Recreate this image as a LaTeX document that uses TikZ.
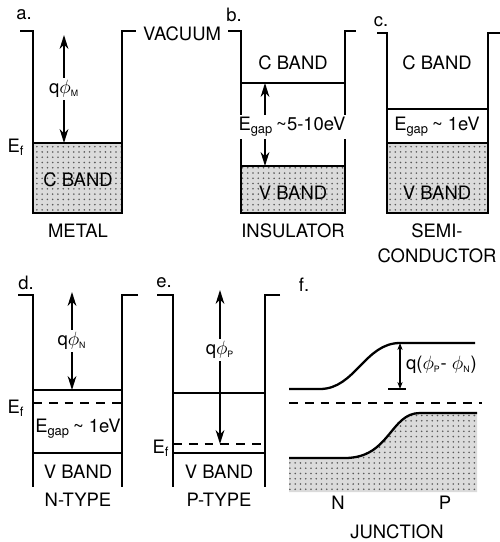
\documentclass[tikz,border=0pt]{standalone}
\usepackage{fontspec}
\setmainfont{TeX Gyre Heros}
\usetikzlibrary{patterns,arrows.meta}

\tikzset{
  wall/.style={line width=1.3pt},
  level/.style={line width=1.3pt},
  fermi/.style={line width=1.4pt, dash pattern=on 5pt off 4pt},
  stipple/.style={fill=black!14, postaction={pattern=dots, pattern color=black!65}},
  txt/.style={font=\fontsize{10.5}{12}\selectfont, inner sep=1pt},
  gap/.style={txt, fill=white, inner sep=1.5pt},
  bigarrow/.style={{Stealth[length=8pt,width=5pt]}-{Stealth[length=8pt,width=5pt]}, line width=1pt},
  smallarrow/.style={{Stealth[length=4pt,width=3pt]}-{Stealth[length=4pt,width=3pt]}, line width=0.7pt},
}

\begin{document}
\begin{tikzpicture}[x=0.02cm,y=-0.02cm]
    \useasboundingbox (0,0) rectangle (500,542);

    % a. metal
    \fill[stipple] (33,143) rectangle (122,213);
    \draw[wall] (20,31) -| (33,213) -- (122,213) |- (136,31);
    \draw[level] (33,143) -- (122,143);
    \coordinate (aTop) at (64,35);
    \coordinate (aEf) at (64,143);
    \draw[bigarrow] (aTop) -- node[gap] (phiM) {q$\phi$\textsubscript{\tiny M}} (aEf);
    \node[txt] (labA) at (24,15) {a.};
    \node[txt] (efA) at (16,147) {E\textsubscript{f}};
    \node[txt] (cbA) at (78,180) {C BAND};
    \node[txt] (metal) at (78,231) {METAL};
    \node[txt] (vacuum) at (182,34) {VACUUM};

    % b. insulator
    \fill[stipple] (241,166) rectangle (345,213);
    \draw[wall] (228,31) -| (241,213) -- (345,213) |- (356,31);
    \draw[level] (241,83) -- (345,83);
    \draw[level] (241,166) -- (345,166);
    \coordinate (bCB) at (265,83);
    \coordinate (bVB) at (265,166);
    \draw[bigarrow] (bCB) -- (bVB);
    \node[gap] (gapB) at (292,127) {E\textsubscript{gap}\,\textasciitilde 5-10eV};
    \node[txt] (labB) at (234,15) {b.};
    \node[txt] (cbB) at (293,63) {C BAND};
    \node[txt] (vbB) at (293,193) {V BAND};
    \node[txt] (insul) at (293,231) {INSULATOR};

    % c. semiconductor
    \fill[stipple] (387,143) rectangle (488,213);
    \draw[wall] (377,33) -| (387,213) -- (488,213) |- (500,33);
    \draw[level] (387,109) -- (488,109);
    \draw[level] (387,143) -- (488,143);
    \node[txt] (labC) at (381,22) {c.};
    \node[txt] (cbC) at (437,63) {C BAND};
    \node[txt] (gapC) at (437,127) {E\textsubscript{gap}\,\textasciitilde\ 1eV};
    \node[txt] (vbC) at (437,193) {V BAND};
    \node[txt] (semi) at (437,231) {SEMI-};
    \node[txt] (cond) at (437,256) {CONDUCTOR};

    % d. n-type
    \draw[wall] (18,295) -| (33,487);
    \draw[wall] (138,295) -| (122,487);
    \draw[level] (33,390) -- (122,390);
    \draw[fermi] (33,403) -- (122,403);
    \draw[level] (33,453) -- (122,453);
    \coordinate (dTop) at (72,292);
    \coordinate (dCB) at (72,390);
    \draw[bigarrow] (dTop) -- node[gap] (phiN) {q$\phi$\textsubscript{\tiny N}} (dCB);
    \node[txt] (labD) at (26,283) {d.};
    \node[txt] (efD) at (16,408) {E\textsubscript{f}};
    \node[txt] (gapD) at (78,429) {E\textsubscript{gap}\,\textasciitilde\ 1eV};
    \node[txt] (vbD) at (78,472) {V BAND};
    \node[txt] (ntype) at (78,500) {N-TYPE};

    % e. p-type
    \draw[wall] (157,295) -| (173,487);
    \draw[wall] (280,295) -| (265,487);
    \draw[level] (173,393) -- (265,393);
    \draw[fermi] (173,444) -- (265,444);
    \draw[level] (173,453) -- (265,453);
    \coordinate (eTop) at (220,290);
    \coordinate (eEf) at (220,444);
    \draw[bigarrow] (eTop) -- (eEf);
    \node[gap] (phiP) at (220,350) {q$\phi$\textsubscript{\tiny P}};
    \node[txt] (labE) at (164,283) {e.};
    \node[txt] (efE) at (161,448) {E\textsubscript{f}};
    \node[txt] (vbE) at (219,472) {V BAND};
    \node[txt] (ptype) at (219,500) {P-TYPE};

    % f. junction
    \fill[stipple] (289,458) -- (345,458) .. controls (390,458) and (390,413) .. (420,413)
        -- (477,413) -- (477,492) -- (289,492) -- cycle;
    \draw[level] (289,389) -- (320,389) .. controls (355,389) and (365,343) .. (400,343) -- (475,343);
    \draw[fermi] (289,403) -- (482,403);
    \draw[level] (289,458) -- (345,458) .. controls (390,458) and (390,413) .. (420,413) -- (477,413);
    \coordinate (fTop) at (400,343);
    \coordinate (fBot) at (400,389);
    \draw[smallarrow] (fTop) -- (fBot);
    \draw[line width=0.7pt] (388,389) -- (406,389);
    \node[txt,anchor=west] (dphi) at (404,365) {q($\phi$\textsubscript{\tiny P}- $\phi$\textsubscript{\tiny N})};
    \node[txt] (labF) at (304,285) {f.};
    \node[txt] (nside) at (338,503) {N};
    \node[txt] (pside) at (445,503) {P};
    \node[txt] (junc) at (397,532) {JUNCTION};
\end{tikzpicture}
\end{document}
